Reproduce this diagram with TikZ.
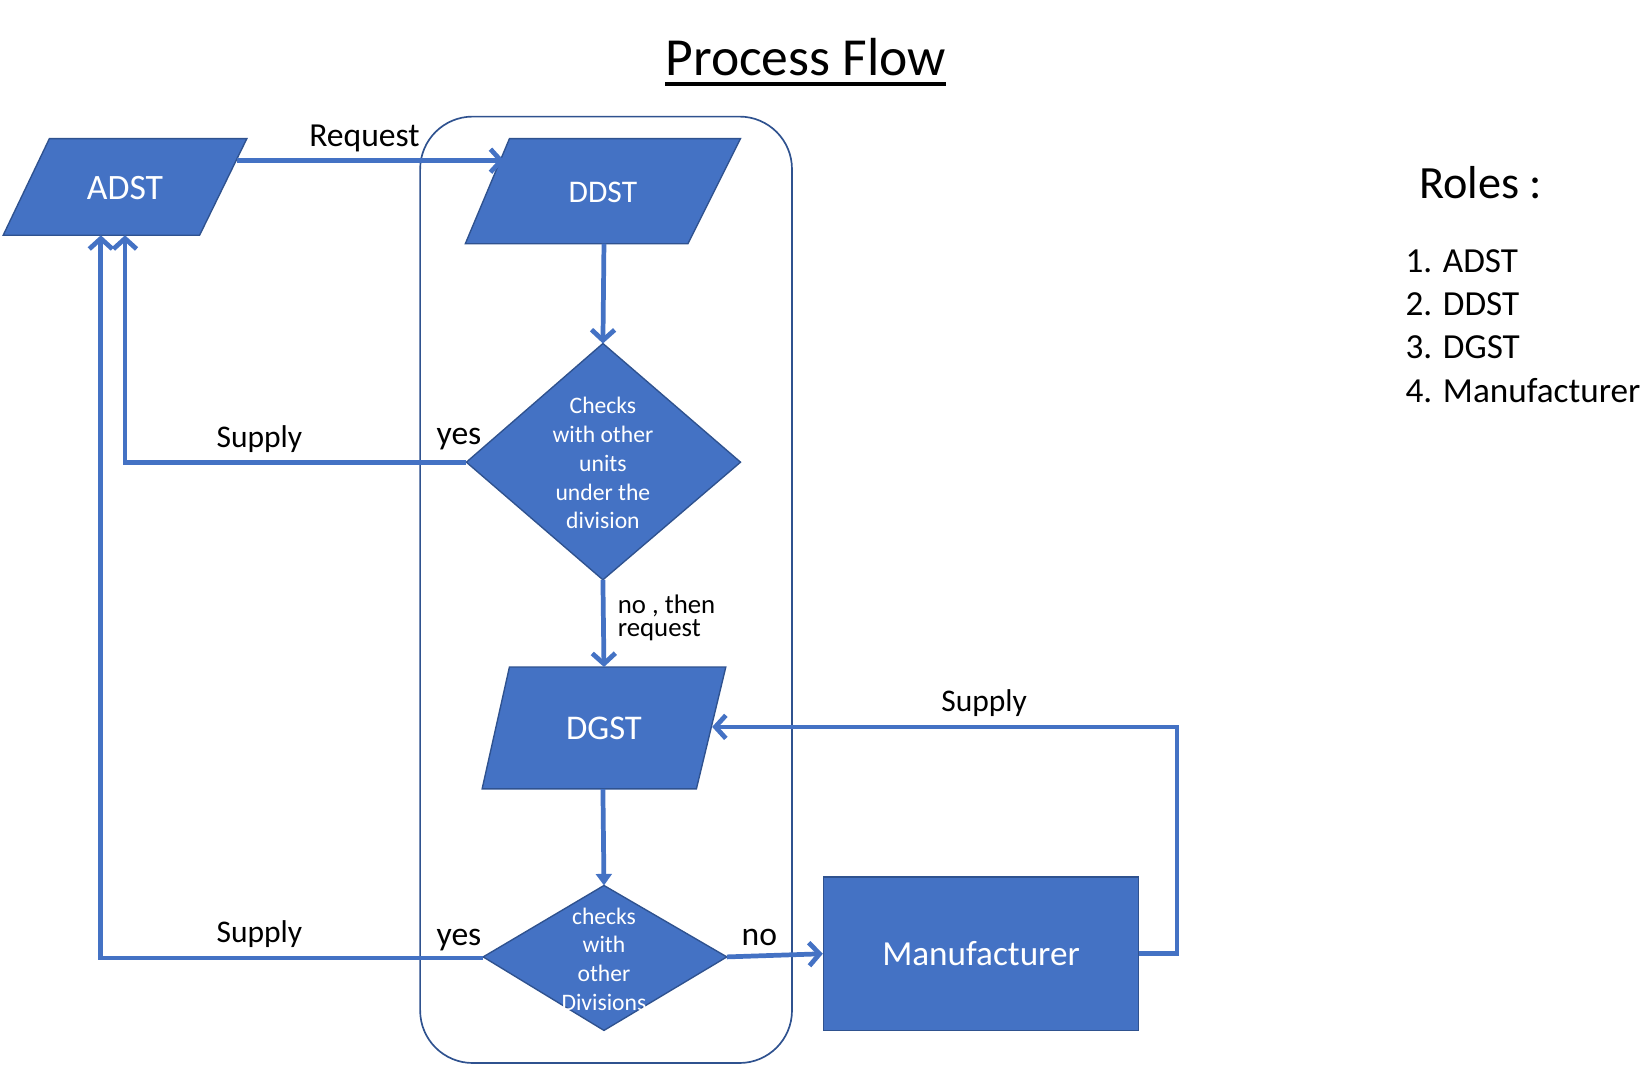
\documentclass[tikz,border=0pt]{standalone}
\usepackage{fontspec}
\setmainfont{Carlito}
\usetikzlibrary{arrows.meta}
\definecolor{obl}{HTML}{4472C4}
\definecolor{obd}{HTML}{2F528F}
\begin{document}
\begin{tikzpicture}[x=1pt,y=-1pt,
  box/.style={fill=obl,draw=obd,line width=1.3pt},
  wtxt/.style={text=white,inner sep=0pt,align=center},
  lbl/.style={text=black,inner sep=0pt,anchor=base,font=\fontsize{30}{36}\selectfont},
  conn/.style={draw=obl,line width=4.5pt,-{Straight Barb[length=10pt,width=22pt]}},
  connf/.style={draw=obl,line width=4.5pt,-{Triangle[length=11pt,width=15pt]}}]
\useasboundingbox (0,0) rectangle (1568,1028);

% title
\node[inner sep=0pt,anchor=base,font=\fontsize{51}{60}\selectfont] (title) at (767,72) {Process Flow};
\draw[line width=3pt] (title.base west) ++(0,8) coordinate (ulA) -- (title.base east |- ulA);

% group frame
\node[draw=obd,line width=1.6pt,rounded corners=50pt,minimum width=354pt,minimum height=901pt,inner sep=0pt] (group) at (577,561.5) {};

% ADST
\path[box] (47,132) -- (235,132) -- (190,224) -- (3,224) -- cycle;
\node[wtxt,font=\fontsize{34}{40}\selectfont] (adst) at (119,179) {ADST};
% DDST
\path[box] (485,132) -- (705,132) -- (655,232) -- (443,232) -- cycle;
\node[wtxt,font=\fontsize{30}{36}\selectfont] (ddst) at (574,183) {DDST};
% diamond 1
\path[box] (574,327) -- (705,440) -- (574,552) -- (444,440) -- cycle;
\node[wtxt,font=\fontsize{22.5}{27.3}\selectfont] (chk1) at (574,441) {Checks\\with other\\units\\under the\\division};
% DGST
\path[box] (485,635) -- (691,635) -- (663,751) -- (459,751) -- cycle;
\node[wtxt,font=\fontsize{33}{40}\selectfont] (dgst) at (575,693) {DGST};
% diamond 2
\path[box] (575,843) -- (692,911) -- (575,981) -- (460,911) -- cycle;
\node[wtxt,font=\fontsize{22.5}{27.3}\selectfont] (chk2) at (575,913) {checks\\with\\other\\Divisions};
% Manufacturer
\node[box,minimum width=300pt,minimum height=146pt,inner sep=0pt,text=white,font=\fontsize{33.5}{40}\selectfont] (mfg) at (934,908) {Manufacturer};

% connection points
\coordinate (adstR) at (226,153);
\coordinate (ddstL) at (480,153);
\coordinate (adstB1) at (119,224);
\coordinate (adstB2) at (96,224);
\coordinate (ddstB) at (575,232);
\coordinate (d1T) at (574,327);
\coordinate (d1L) at (444,440);
\coordinate (d1B) at (574,552);
\coordinate (dgstT) at (575,635);
\coordinate (dgstB) at (574,751);
\coordinate (dgstR) at (678,692);
\coordinate (d2T) at (575,843);
\coordinate (d2L) at (460,912);
\coordinate (d2R) at (692,911);

% connectors
\draw[conn] (adstR) -- (ddstL);
\draw[conn] (ddstB) -- (d1T);
\draw[conn] (d1L) -| (adstB1);
\draw[conn] (d1B) -- (dgstT);
\draw[connf] (dgstB) -- (d2T);
\draw[conn] (d2L) -| (adstB2);
\draw[conn] (d2R) -- (mfg.west);
\draw[conn] (mfg.east) -- ++(36,0) |- (dgstR);

% labels
\node[lbl,font=\fontsize{32}{38}\selectfont] (lreq) at (347,139) {Request};
\node[lbl] (lsup1) at (247,426) {Supply};
\node[lbl,font=\fontsize{32}{38}\selectfont] (lyes1) at (437,423) {yes};
\node[lbl] (lsup2) at (247,897) {Supply};
\node[lbl,font=\fontsize{32}{38}\selectfont] (lyes2) at (437,900) {yes};
\node[lbl,font=\fontsize{32}{38}\selectfont] (lno) at (723,900) {no};
\node[lbl] (lsup3) at (937,677) {Supply};
\node[inner sep=0pt,anchor=north west,align=left,font=\fontsize{25.5}{22}\selectfont] (lnoreq) at (588,566) {no , then\\request};

% roles
\node[inner sep=0pt,anchor=base west,font=\fontsize{44}{50}\selectfont] (roles) at (1351,189) {Roles :};
\node[inner sep=0pt,anchor=base west,font=\fontsize{33.5}{40}\selectfont] (r1) at (1338,259) {1. ADST};
\node[inner sep=0pt,anchor=base west,font=\fontsize{33.5}{40}\selectfont] (r2) at (1338,300) {2. DDST};
\node[inner sep=0pt,anchor=base west,font=\fontsize{33.5}{40}\selectfont] (r3) at (1338,341) {3. DGST};
\node[inner sep=0pt,anchor=base west,font=\fontsize{33.5}{40}\selectfont] (r4) at (1338,383) {4. Manufacturer};
\end{tikzpicture}
\end{document}
